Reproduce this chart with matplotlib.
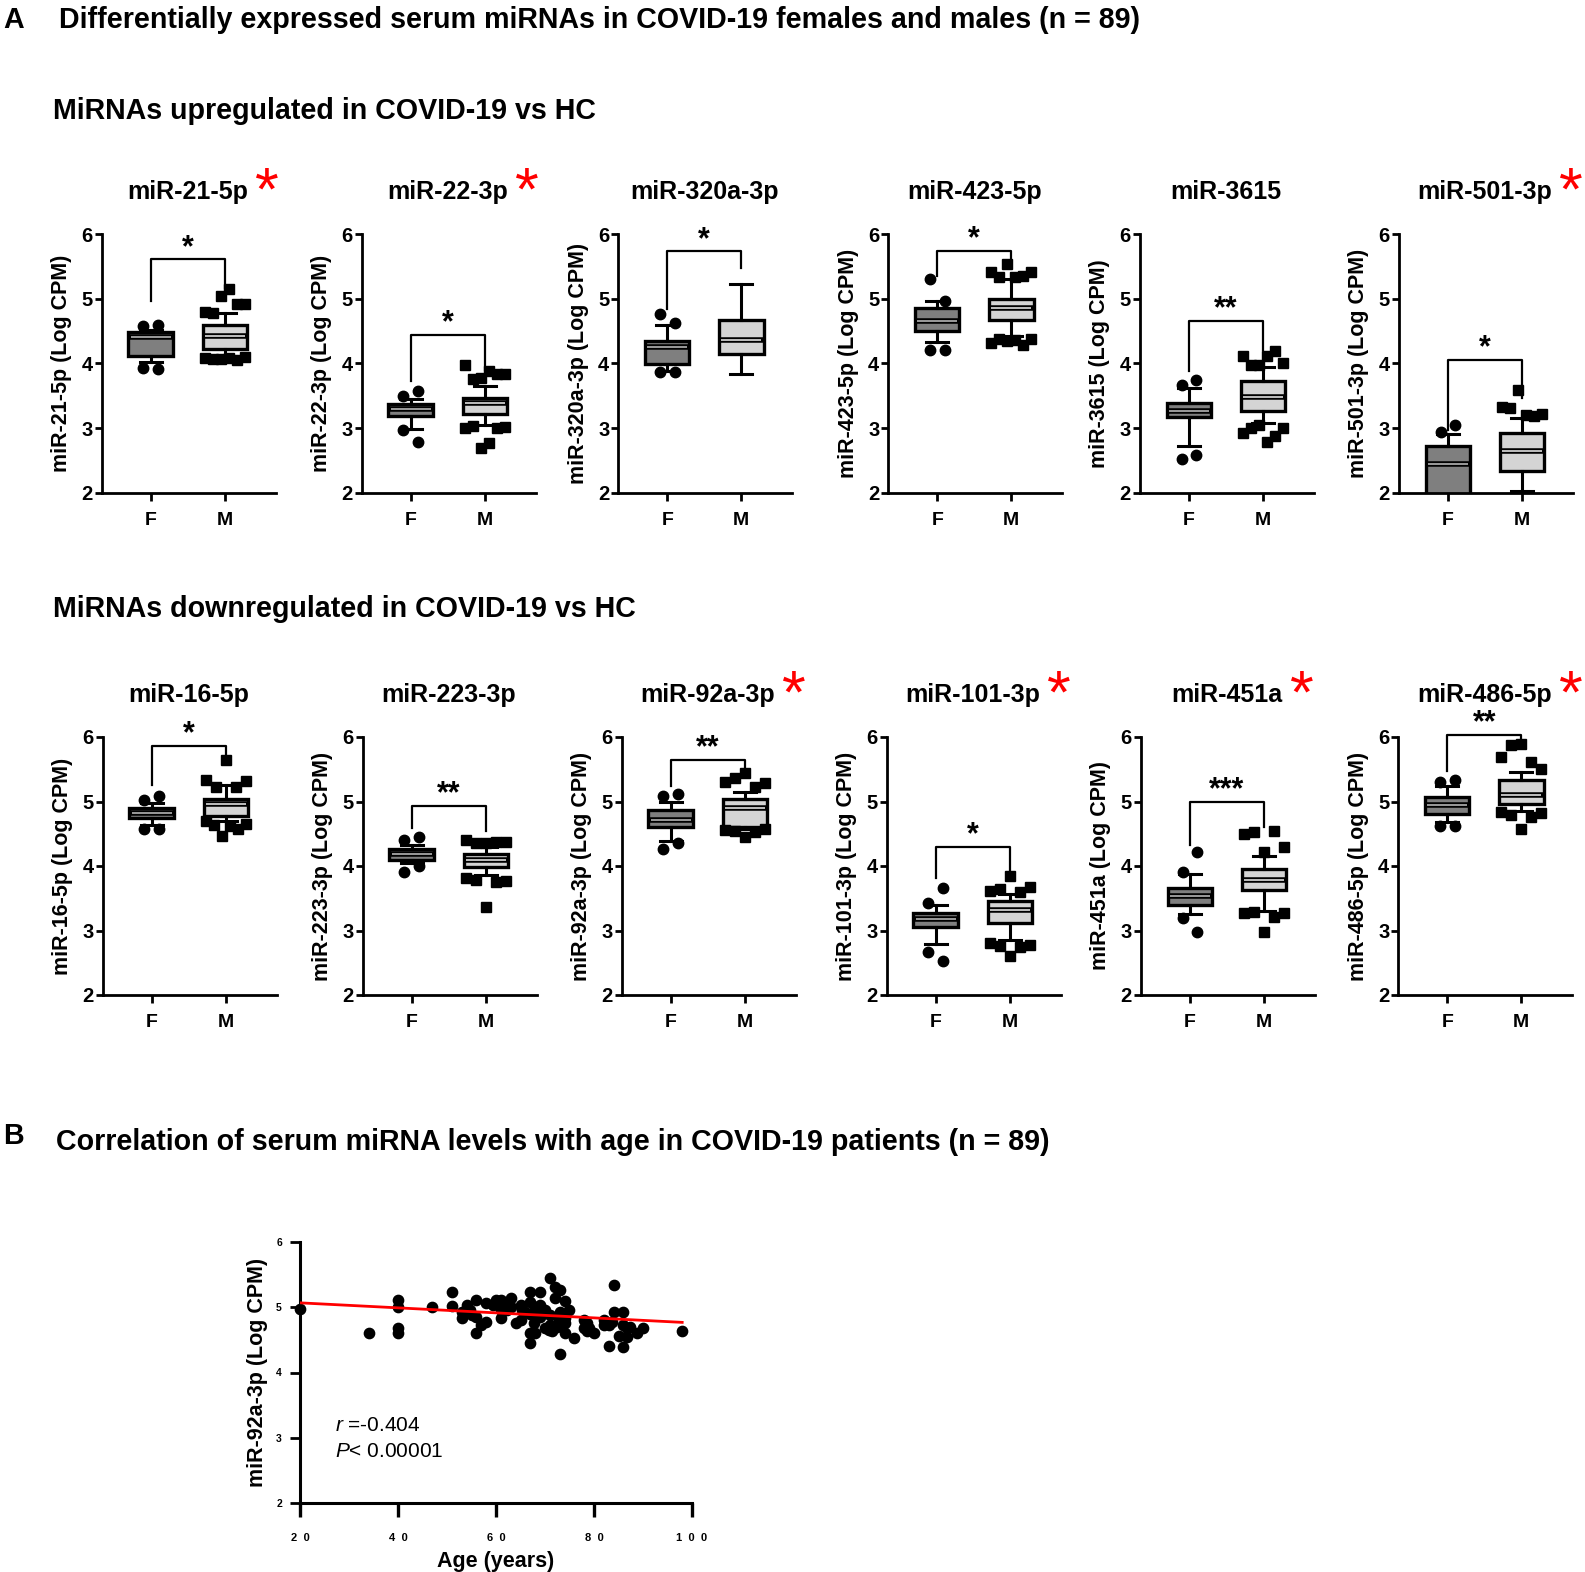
import numpy as np
import matplotlib
matplotlib.use('Agg')
import matplotlib.pyplot as plt
from matplotlib.transforms import blended_transform_factory

plt.rcParams['font.family'] = ['Liberation Sans', 'DejaVu Sans']
plt.rcParams['mathtext.fontset'] = 'custom'
plt.rcParams['mathtext.rm'] = 'Liberation Sans'
plt.rcParams['mathtext.it'] = 'Liberation Sans:italic'

# ---- dados: painel A (boxplots F vs M) ----
mirnas = ['miR-21-5p', 'miR-22-3p', 'miR-320a-3p', 'miR-423-5p', 'miR-3615', 'miR-501-3p',
          'miR-16-5p', 'miR-223-3p', 'miR-92a-3p', 'miR-101-3p', 'miR-451a', 'miR-486-5p']
red_mark = [True, True, False, False, False, True, False, False, True, True, True, True]
signif = ['*', '*', '*', '*', '**', '*', '*', '**', '**', '*', '***', '**']
groups = ['F', 'M']

# femininos
f_q1 = [4.12, 3.18, 3.99, 4.50, 3.17, 1.90, 4.74, 4.10, 4.60, 3.06, 3.39, 4.80]
f_med = [4.40, 3.29, 4.26, 4.66, 3.27, 2.45, 4.82, 4.18, 4.71, 3.18, 3.54, 4.94]
f_q3 = [4.49, 3.37, 4.34, 4.85, 3.39, 2.72, 4.90, 4.27, 4.87, 3.27, 3.66, 5.07]
f_lo = [4.02, 2.98, 3.88, 4.33, 2.72, 1.80, 4.64, 4.04, 4.38, 2.79, 3.25, 4.68]
f_hi = [4.52, 3.45, 4.59, 4.96, 3.62, 2.91, 4.98, 4.33, 5.00, 3.39, 3.88, 5.24]
f_out = [[4.57, 4.59, 3.93, 3.92],
         [3.49, 3.57, 2.97, 2.78],
         [4.77, 4.63, 3.86, 3.86],
         [5.30, 4.97, 4.20, 4.20],
         [3.67, 3.74, 2.52, 2.59],
         [2.94, 3.04],
         [5.03, 5.08, 4.57, 4.58],
         [4.41, 4.45, 3.91, 4.00],
         [5.08, 5.11, 4.26, 4.36],
         [3.42, 3.66, 2.67, 2.53],
         [3.91, 4.22, 3.19, 2.98],
         [5.30, 5.34, 4.62, 4.62]]

# masculinos
m_q1 = [4.22, 3.22, 4.15, 4.67, 3.27, 2.34, 4.78, 3.98, 4.60, 3.11, 3.63, 4.96]
m_med = [4.42, 3.39, 4.36, 4.86, 3.48, 2.65, 4.96, 4.10, 4.90, 3.32, 3.78, 5.10]
m_q3 = [4.59, 3.46, 4.67, 5.00, 3.72, 2.93, 5.04, 4.18, 5.04, 3.45, 3.96, 5.33]
m_lo = [4.12, 3.05, 3.83, 4.42, 3.07, 2.02, 4.70, 3.86, 4.58, 2.85, 3.30, 4.86]
m_hi = [4.78, 3.65, 5.23, 5.30, 3.95, 3.15, 5.25, 4.30, 5.15, 3.57, 4.15, 5.45]
m_out = [[4.79, 4.78, 5.04, 5.15, 4.91, 4.92, 4.08, 4.07, 4.06, 4.09, 4.05, 4.10],
         [3.98, 3.76, 3.78, 3.88, 3.83, 3.84, 3.00, 3.03, 2.69, 2.77, 3.00, 3.01],
         [],
         [5.42, 5.33, 5.53, 5.33, 5.35, 5.42, 4.32, 4.38, 4.34, 4.36, 4.29, 4.38],
         [4.11, 3.98, 3.98, 4.12, 4.19, 4.00, 2.92, 3.00, 3.04, 2.78, 2.87, 3.00],
         [3.33, 3.31, 3.59, 3.20, 3.19, 3.21],
         [5.33, 5.23, 5.65, 5.22, 5.32, 4.69, 4.63, 4.46, 4.62, 4.57, 4.65],
         [4.41, 4.36, 4.35, 4.37, 4.37, 3.81, 3.79, 3.37, 3.75, 3.77],
         [5.31, 5.36, 5.44, 5.22, 5.28, 4.56, 4.55, 4.45, 4.53, 4.57],
         [3.62, 3.65, 3.84, 3.60, 3.68, 2.80, 2.76, 2.60, 2.75, 2.78],
         [4.50, 4.53, 4.22, 4.54, 4.30, 3.27, 3.28, 2.98, 3.21, 3.27],
         [5.69, 5.88, 5.89, 5.62, 5.51, 4.83, 4.79, 4.58, 4.76, 4.82]]

# colchetes de significancia
br_top = [5.61, 4.44, 5.73, 5.74, 4.66, 4.05, 5.86, 4.93, 5.65, 4.30, 5.00, 6.03]
br_f = [4.96, 3.72, 4.84, 5.35, 3.88, 2.97, 5.26, 4.59, 5.24, 3.81, 4.32, 5.48]
br_m = [5.16, 3.90, 5.48, 5.61, 4.20, 3.46, 5.70, 4.54, 5.49, 3.94, 4.60, 5.90]

# ---- dados: painel B (correlacao com idade) ----
age = [20, 34, 40, 40, 40, 40, 47, 51, 51, 53, 53, 54, 55, 56, 56, 56, 57, 58, 58, 60,
       61, 61, 61, 62, 63, 63, 64, 65, 65, 66, 67, 67, 67, 67, 68, 68, 69, 69, 69, 70,
       71, 71, 71, 71.5, 72, 72, 72.4, 73, 73, 73, 74, 74, 74, 74, 76, 78, 78, 78.5, 80, 82,
       83, 83, 84, 84, 85, 86, 86, 86, 86.7, 88.7, 90, 98, 67, 69, 72.8, 70.8, 65.4, 79,
       86.7, 87.4, 62.2, 54.7, 59.4, 67.7, 70, 74.8, 78.5, 83.6, 82]
mir92 = [4.97, 4.61, 5.12, 5.01, 4.69, 4.61, 5.00, 5.23, 5.02, 4.93, 4.83, 5.04, 4.88, 5.12,
         4.86, 4.60, 4.73, 5.07, 4.78, 5.11, 5.12, 4.96, 4.83, 5.06, 5.15, 5.01, 4.76, 5.04,
         4.81, 4.93, 5.23, 5.09, 4.60, 4.45, 5.01, 4.60, 4.96, 5.23, 4.86, 4.68, 5.45, 4.88,
         4.73, 4.63, 5.32, 5.15, 4.70, 5.27, 4.93, 4.29, 4.83, 5.10, 4.60, 4.76, 4.53, 4.81,
         4.68, 4.63, 4.60, 4.81, 4.73, 4.41, 5.34, 4.93, 4.56, 4.93, 4.39, 4.73, 4.68, 4.60,
         4.68, 4.63, 4.90, 5.04, 4.81, 4.65, 4.96, 4.68, 4.55, 4.70, 4.96, 4.96, 5.04, 4.76,
         4.96, 4.96, 4.76, 4.78, 4.73]
# reta de regressao
fit_age = [20, 98]
fit_level = [5.07, 4.77]
r_text = r'$\it{r}$ =-0.404'
p_text = r'$\it{P}$< 0.00001'

W, H = 1585, 1572
fig = plt.figure(figsize=(W / 100, H / 100), dpi=100)


def px_axes(left, top, right, bottom):
    return fig.add_axes([left / W, 1 - bottom / H, (right - left) / W, (bottom - top) / H])


def spread(vals, half):
    n = len(vals)
    if n == 0:
        return []
    h = min(half, 0.1 * (n - 1))
    return list(np.linspace(-h, h, n)) if n > 1 else [0.0]


row_top = [234, 737]
row_bot = [492.7, 995]
col_left = [[101.7, 361.7, 618.3, 888.3, 1140, 1399],
            [102.7, 362.7, 621.7, 886.7, 1141, 1398.3]]
AXW = 174
XL = (-0.662, 1.689)

for i, name in enumerate(mirnas):
    r, c = divmod(i, 6)
    left = col_left[r][c]
    ax = px_axes(left, row_top[r], left + AXW, row_bot[r])
    stats = [dict(q1=f_q1[i], med=f_med[i], q3=f_q3[i], whislo=f_lo[i], whishi=f_hi[i], fliers=[]),
             dict(q1=m_q1[i], med=m_med[i], q3=m_q3[i], whislo=m_lo[i], whishi=m_hi[i], fliers=[])]
    bp = ax.bxp(stats, positions=[0, 1], widths=0.6, patch_artist=True, showfliers=False,
                boxprops=dict(linewidth=2.4, edgecolor='black'),
                whiskerprops=dict(linewidth=2.2, color='black'),
                capprops=dict(linewidth=2.2, color='black'),
                medianprops=dict(linewidth=4, color='black', solid_capstyle='butt'))
    bp['boxes'][0].set_facecolor('#7f7f7f')
    bp['boxes'][1].set_facecolor('#d4d4d4')
    ax.hlines([f_med[i]], -0.27, 0.27, color='#c4c4c4', lw=1.1, zorder=5)
    ax.hlines([m_med[i]], 0.73, 1.27, color='#f2f2f2', lw=1.1, zorder=5)

    for pos, outs, q1, q3, mk, ms in [(0, f_out[i], f_q1[i], f_q3[i], 'o', 7.5),
                                      (1, m_out[i], m_q1[i], m_q3[i], 's', 7)]:
        up = [v for v in outs if v > q3]
        dn = [v for v in outs if v < q1]
        for grp in (up, dn):
            xs = [pos + d for d in spread(grp, 0.27)]
            ax.plot(xs, grp, ls='none', marker=mk, ms=ms, color='black', zorder=6)

    # colchete
    ax.plot([0, 0, 1, 1], [br_f[i], br_top[i], br_top[i], br_m[i]], color='black', lw=1.6,
            clip_on=False, zorder=7)
    ax.text(0.5, br_top[i] - 0.055, signif[i], ha='center', va='bottom', fontsize=22,
            fontweight='bold', zorder=8)

    ax.set_xlim(*XL)
    ax.set_ylim(2, 6)
    ax.set_yticks([2, 3, 4, 5, 6])
    ax.set_xticks([0, 1])
    ax.set_xticklabels(groups)
    for s in ['top', 'right']:
        ax.spines[s].set_visible(False)
    for s in ['left', 'bottom']:
        ax.spines[s].set_linewidth(2)
    ax.tick_params(axis='y', length=5, width=2, pad=1.5, labelsize=14.5)
    ax.tick_params(axis='x', length=6, width=2, pad=8, labelsize=14)
    for lab in ax.get_xticklabels() + ax.get_yticklabels():
        lab.set_fontweight('bold')
    ax.set_ylabel(f'{name} (Log CPM)', fontsize=15.5, fontweight='bold')
    ax.yaxis.set_label_coords(-0.17, 0.5)

    trans = blended_transform_factory(ax.transData, ax.transAxes)
    t = ax.text(0.5, 1 + 42 / 258, name, transform=trans, ha='center', va='center',
                fontsize=18, fontweight='bold')
    if red_mark[i]:
        ax.annotate('*', xy=(1, 0), xycoords=t, xytext=(5, -4), textcoords='offset points',
                    ha='left', va='baseline', color='red', fontsize=44)

# ---- painel B ----
axs = px_axes(300, 1242.3, 692, 1502.7)
axs.scatter(age, mir92, s=55, color='black', zorder=3, clip_on=False)
axs.plot(fit_age, fit_level, color='red', lw=2, zorder=4)
axs.set_xlim(20, 100)
axs.set_ylim(2, 6)
axs.set_xticks([20, 40, 60, 80, 100])
axs.set_xticklabels(['  '.join(str(v)) for v in [20, 40, 60, 80, 100]])
axs.set_yticks([2, 3, 4, 5, 6])
for s in ['top', 'right']:
    axs.spines[s].set_visible(False)
for s in ['left', 'bottom']:
    axs.spines[s].set_linewidth(2.2)
axs.tick_params(axis='x', length=10, width=2.4, pad=12, labelsize=8)
axs.tick_params(axis='y', length=7, width=2, pad=6, labelsize=7.5)
for lab in axs.get_xticklabels() + axs.get_yticklabels():
    lab.set_fontweight('bold')
axs.set_ylabel('miR-92a-3p (Log CPM)', fontsize=15.5, fontweight='bold')
axs.yaxis.set_label_coords(-0.082, 0.5)
axs.set_xlabel('Age (years)', fontsize=15.5, fontweight='bold')
axs.xaxis.set_label_coords(0.5, -0.186)
axs.text(27.1, 3.19, r_text, fontsize=15, va='center', ha='left')
axs.text(27.1, 2.78, p_text, fontsize=15, va='center', ha='left')

# ---- titulos ----
HS = 20.6
fig.text(3 / W, 1 - 20 / H, 'A', fontsize=HS, fontweight='bold', va='center')
fig.text(58.6 / W, 1 - 20 / H,
         'Differentially expressed serum miRNAs in COVID-19 females and males (n = 89)',
         fontsize=HS, fontweight='bold', va='center')
fig.text(52.6 / W, 1 - 111 / H, 'MiRNAs upregulated in COVID-19 vs HC',
         fontsize=HS, fontweight='bold', va='center')
fig.text(52.6 / W, 1 - 609 / H, 'MiRNAs downregulated in COVID-19 vs HC',
         fontsize=HS, fontweight='bold', va='center')
fig.text(3 / W, 1 - 1136 / H, 'B', fontsize=HS, fontweight='bold', va='center')
fig.text(55.6 / W, 1 - 1142 / H,
         'Correlation of serum miRNA levels with age in COVID-19 patients (n = 89)',
         fontsize=HS, fontweight='bold', va='center')

fig.savefig('out.png', dpi=100)
